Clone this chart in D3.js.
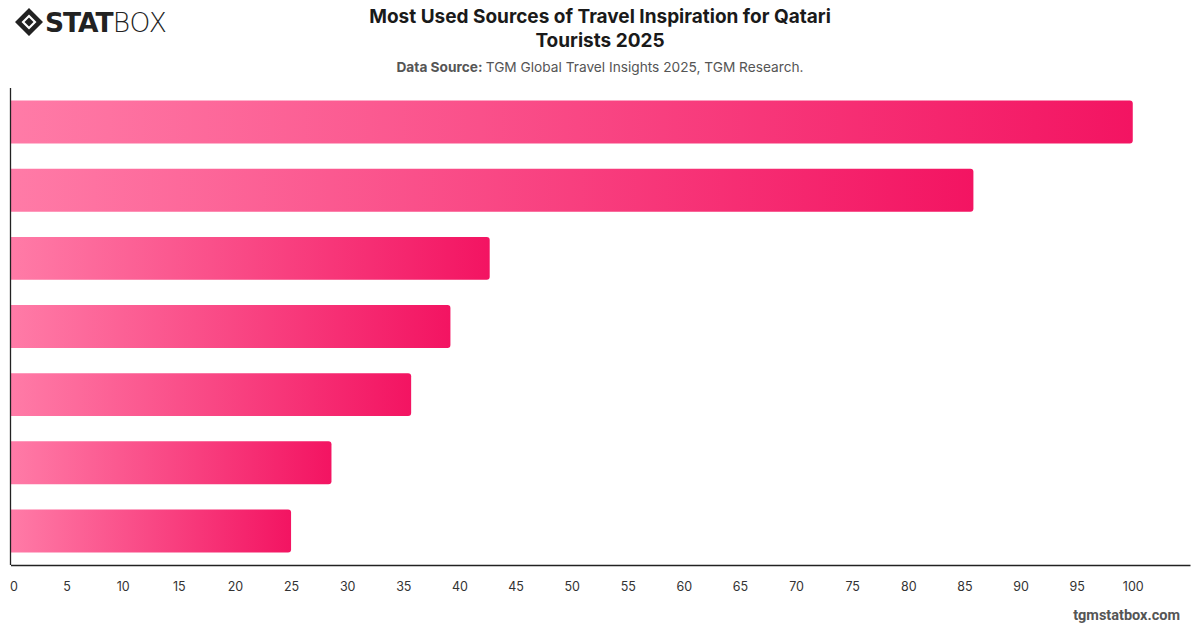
<!DOCTYPE html>
<html>
<head>
<meta charset="utf-8">
<script src="https://cdn.jsdelivr.net/npm/d3@7"></script>
<style>
  body { margin: 0; background: #fff; }
  svg { display: block; font-family: Inter, "Noto Sans", sans-serif; }
</style>
</head>
<body>
<script>
const w = 1200
const h = 628

// data (no category labels shown on the chart)
const categories = ["Source 1", "Source 2", "Source 3", "Source 4", "Source 5", "Source 6", "Source 7"]
const values = [100, 85.8, 42.7, 39.2, 35.7, 28.6, 25]
const xTicks = [0, 5, 10, 15, 20, 25, 30, 35, 40, 45, 50, 55, 60, 65, 70, 75, 80, 85, 90, 95, 100]

const margin = { top: 88, left: 10.5, bottom: 63, right: 10 }

const svg = d3.select("body")
    .append("svg")
    .attr("width", w)
    .attr("height", h)

// gradient for bars
const grad = svg.append("defs").append("linearGradient")
    .attr("id", "barGrad")
    .attr("x1", "0%").attr("x2", "100%")
    .attr("y1", "0%").attr("y2", "0%")
grad.append("stop").attr("offset", "0%").attr("stop-color", "#ff7ba7")
grad.append("stop").attr("offset", "100%").attr("stop-color", "#f31462")

const x = d3.scaleLinear()
    .domain([0, 105.1])
    .range([margin.left, w - margin.right])

const y = d3.scaleBand()
    .domain(categories)
    .range([margin.top, h - margin.bottom])
    .paddingInner(0.37)
    .paddingOuter(0.185)

// bars: square on the left, rounded on the right
const r = 3
svg.selectAll("path.bar")
    .data(values)
    .enter()
    .append("path")
    .attr("class", "bar")
    .attr("fill", "url(#barGrad)")
    .attr("d", (d, i) => {
        const x0 = x(0), x1 = x(d)
        const y0 = y(categories[i]), bh = y.bandwidth()
        return `M${x0},${y0}H${x1 - r}Q${x1},${y0} ${x1},${y0 + r}V${y0 + bh - r}Q${x1},${y0 + bh} ${x1 - r},${y0 + bh}H${x0}Z`
    })

// axes
const xAxis = svg.append("g")
    .attr("transform", `translate(0,${h - margin.bottom})`)
    .call(d3.axisBottom(x).tickValues(xTicks).tickSize(0).tickPadding(17))
xAxis.select(".domain").attr("stroke", "#222").attr("stroke-width", 1.3)
xAxis.selectAll("text")
    .attr("font-size", 12.5)
    .attr("fill", "#333")
    .attr("font-family", "Inter, sans-serif")
    .attr("dx", (d) => d === 0 ? 3 : 0)

svg.append("line")
    .attr("x1", margin.left).attr("x2", margin.left)
    .attr("y1", margin.top).attr("y2", h - margin.bottom)
    .attr("stroke", "#222")
    .attr("stroke-width", 1.3)

// titles
svg.append("text")
    .attr("x", 600).attr("y", 23)
    .attr("text-anchor", "middle")
    .attr("font-size", 19).attr("font-weight", 700).attr("fill", "#1a1a1a")
    .text("Most Used Sources of Travel Inspiration for Qatari")
svg.append("text")
    .attr("x", 600).attr("y", 47)
    .attr("text-anchor", "middle")
    .attr("font-size", 19).attr("font-weight", 700).attr("fill", "#1a1a1a")
    .text("Tourists 2025")

const sub = svg.append("text")
    .attr("x", 600).attr("y", 72)
    .attr("text-anchor", "middle")
    .attr("font-size", 13.7).attr("fill", "#555")
sub.append("tspan").attr("font-weight", 700).text("Data Source: ")
sub.append("tspan").text("TGM Global Travel Insights 2025, TGM Research.")

// logo
const logo = svg.append("g").attr("transform", "translate(15,8)")
logo.append("path")
    .attr("d", "M14,0 L28,14 L14,28 L0,14 Z M14,6.5 L21.5,14 L14,21.5 L6.5,14 Z")
    .attr("fill", "#222").attr("fill-rule", "evenodd")
logo.append("path")
    .attr("d", "M14,9.5 L18.5,14 L14,18.5 L9.5,14 Z")
    .attr("fill", "#222")
const lt = logo.append("text")
    .attr("x", 30).attr("y", 24)
    .attr("font-size", 26.5).attr("fill", "#222")
    .attr("font-family", "'DejaVu Sans', sans-serif")
lt.append("tspan").attr("font-weight", 900).attr("letter-spacing", -1).text("STAT")
lt.append("tspan").attr("font-weight", 300).text("BOX")

// footer
svg.append("text")
    .attr("x", 1180).attr("y", 620)
    .attr("text-anchor", "end")
    .attr("font-size", 14.5).attr("font-weight", 700).attr("fill", "#555")
    .attr("font-family", "Roboto, sans-serif")
    .text("tgmstatbox.com")
</script>
</body>
</html>
